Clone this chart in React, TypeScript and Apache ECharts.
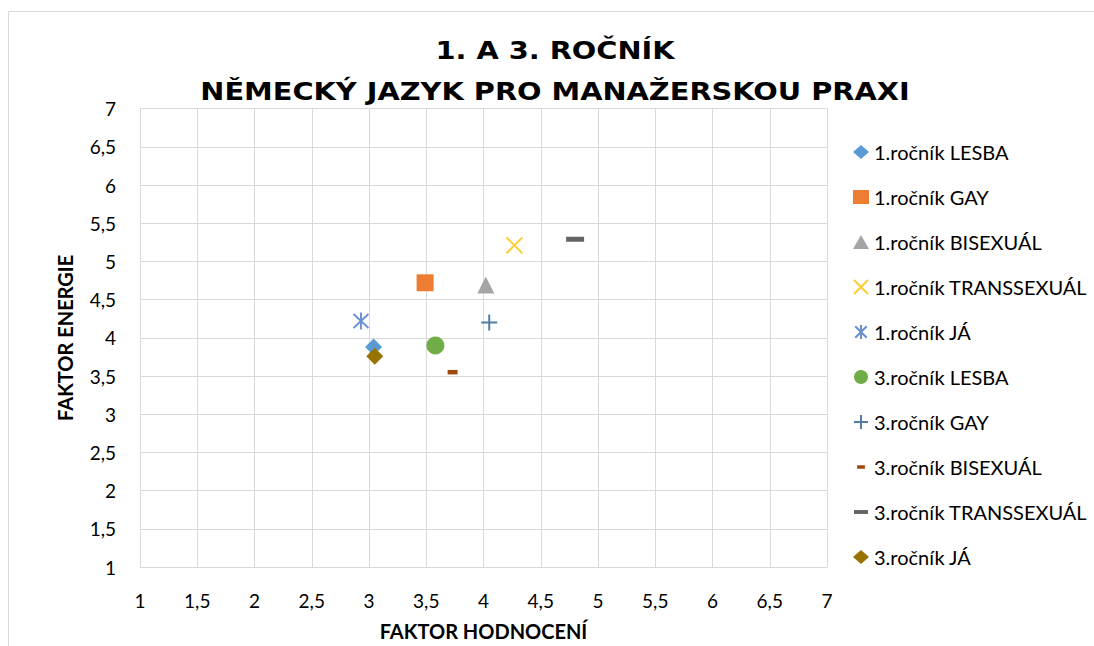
import { useEffect, useRef } from "react";
import * as echarts from "echarts";

const seriesNames = [
  "1.ročník LESBA",
  "1.ročník GAY",
  "1.ročník BISEXUÁL",
  "1.ročník TRANSSEXUÁL",
  "1.ročník JÁ",
  "3.ročník LESBA",
  "3.ročník GAY",
  "3.ročník BISEXUÁL",
  "3.ročník TRANSSEXUÁL",
  "3.ročník JÁ",
];
const xValues = [3.04, 3.49, 4.02, 4.27, 2.93, 3.58, 4.05, 3.73, 4.8, 3.05];
const yValues = [3.88, 4.72, 4.69, 5.21, 4.22, 3.9, 4.2, 3.55, 5.29, 3.76];
const titleLines = ["1. A 3. ROČNÍK", "NĚMECKÝ JAZYK PRO MANAŽERSKOU PRAXI"];
const xAxisTitle = "FAKTOR HODNOCENÍ";
const yAxisTitle = "FAKTOR ENERGIE";
const axisMin = 1;
const axisMax = 7;
const axisStep = 0.5;

const colors = [
  "#5B9BD5",
  "#ED7D31",
  "#A5A5A5",
  "#FFC000",
  "#4472C4",
  "#70AD47",
  "#255E91",
  "#9E480E",
  "#636363",
  "#997300",
];

type Marker = { symbol: string; size: number | number[]; stroke?: boolean };
const markers: Marker[] = [
  { symbol: "diamond", size: 17 },
  { symbol: "rect", size: 17 },
  { symbol: "triangle", size: 17 },
  { symbol: "path://M0,0L10,10M10,0L0,10", size: 16, stroke: true },
  { symbol: "path://M0,1.5L14,15.5M14,1.5L0,15.5M7,0L7,17", size: [15, 17], stroke: true },
  { symbol: "circle", size: 18 },
  { symbol: "path://M0,5L10,5M5,0L5,10", size: 16, stroke: true },
  { symbol: "path://M0,0M18,18M4,6.75h10v4.5h-10z", size: 18 },
  { symbol: "path://M0,0M18,18M0,6.5h18v5h-18z", size: 18 },
  { symbol: "diamond", size: 17 },
];

const fmt = (v: number) => String(v).replace(".", ",");

export default function App() {
  const ref = useRef<HTMLDivElement>(null);
  useEffect(() => {
    if (!ref.current) return;
    const chart = echarts.init(ref.current, null, { renderer: "svg" });
    const series = seriesNames.map((name, i) => {
      const m = markers[i];
      return {
        name,
        type: "scatter",
        symbol: m.symbol,
        symbolSize: m.size,
        data: [[xValues[i], yValues[i]]],
        itemStyle: m.stroke
          ? { color: "rgba(0,0,0,0)", borderColor: colors[i], borderWidth: 2 }
          : { color: colors[i], opacity: 1 },
        emphasis: { disabled: true },
      };
    });
    const axisCommon = {
      type: "value",
      min: axisMin,
      max: axisMax,
      interval: axisStep,
      axisLine: { show: true, lineStyle: { color: "#d9d9d9", width: 1 } },
      axisTick: { show: false },
      splitLine: { show: true, lineStyle: { color: "#d9d9d9", width: 1 } },
    };
    chart.setOption({
      animation: false,
      graphic: [
        {
          type: "rect",
          silent: true,
          shape: { x: 8.5, y: 11.5, width: 1200, height: 1000 },
          style: { fill: "none", stroke: "#d9d9d9", lineWidth: 1 },
        },
        {
          type: "text",
          x: 555,
          y: 50,
          scaleX: 1.2,
          style: {
            text: titleLines[0],
            fontFamily: "DejaVu Sans",
            fontWeight: "bold",
            fontSize: 24,
            fill: "#000",
            align: "center",
            verticalAlign: "middle",
          },
        },
        {
          type: "text",
          x: 555,
          y: 91,
          scaleX: 1.2,
          style: {
            text: titleLines[1],
            fontFamily: "DejaVu Sans",
            fontWeight: "bold",
            fontSize: 24,
            fill: "#000",
            align: "center",
            verticalAlign: "middle",
          },
        },
      ],
      grid: { left: 140, right: 267, top: 108.6, bottom: 76.6, containLabel: false },
      xAxis: {
        ...axisCommon,
        name: xAxisTitle,
        nameLocation: "middle",
        nameGap: 54,
        nameTextStyle: { fontFamily: "Lato", fontWeight: "bold", fontSize: 20, color: "#000" },
        axisLabel: {
          margin: 24,
          fontFamily: "Lato",
          fontSize: 19,
          color: "#000",
          formatter: fmt,
        },
      },
      yAxis: {
        ...axisCommon,
        name: yAxisTitle,
        nameLocation: "middle",
        nameRotate: 90,
        nameGap: 65,
        nameTextStyle: { fontFamily: "Lato", fontWeight: "bold", fontSize: 20, color: "#000" },
        axisLabel: {
          margin: 24,
          fontFamily: "Lato",
          fontSize: 19,
          color: "#000",
          formatter: fmt,
        },
      },
      legend: {
        orient: "vertical",
        left: 848,
        top: 137,
        itemWidth: 16,
        itemHeight: 14,
        itemGap: 25,
        selectedMode: false,
        textStyle: { fontFamily: "Lato", fontSize: 20, color: "#000", lineHeight: 20 },
        data: seriesNames,
      },
      series,
    });
    return () => chart.dispose();
  }, []);
  return (
    <div
      ref={ref}
      style={{ position: "fixed", left: 0, top: 0, width: 1094, height: 646, background: "#fff" }}
    />
  );
}
